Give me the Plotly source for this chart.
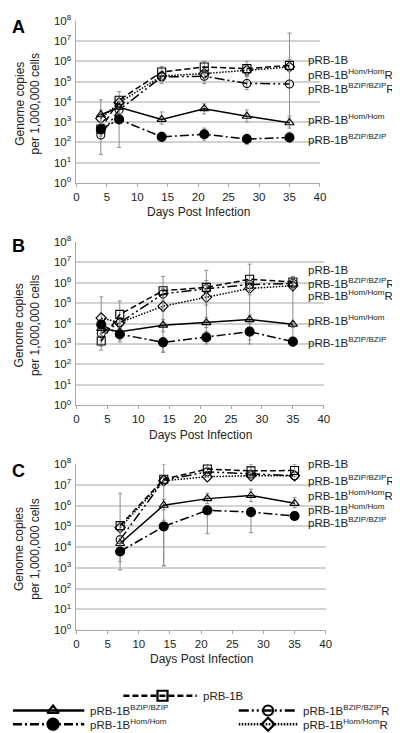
import plotly.graph_objects as go

# ---------------- data ----------------
DAYS_A = [4, 7, 14, 21, 28, 35]
DAYS_B = [4, 7, 14, 21, 28, 35]
DAYS_C = [7, 14, 21, 28, 35]

# series keys: prb (square, dashed), tri (triangle, solid), fill (filled circle, dash-dot),
#              bzipr (open circle, dash-dot-dot), homr (diamond, dotted)
A_PRB = [450, 12000, 300000, 525000, 440000, 630000]
A_HOMR = [1500, 9000, 190000, 250000, 360000, 530000]
A_BZIPR = [230, 4000, 170000, 185000, 81000, 76000]
A_TRI = [2300, 5400, 1350, 4600, 1950, 930]
A_FILL = [440, 1350, 186, 250, 145, 173]

B_PRB = [1400, 28000, 400000, 580000, 1450000, 1070000]
B_BZIPR = [3300, 11000, 280000, 500000, 800000, 900000]
B_HOMR = [18600, 11000, 70000, 190000, 520000, 700000]
B_TRI = [5800, 4000, 8300, 11000, 15500, 9300]
B_FILL = [8900, 3000, 1200, 2100, 4000, 1300]

C_PRB = [110000, 19000000, 59000000, 48000000, 50000000]
C_BZIPR = [23000, 17000000, 43000000, 34000000, 28000000]
C_HOMR = [87000, 16000000, 25000000, 28000000, 28000000]
C_TRI = [15000, 1050000, 2200000, 3100000, 1300000]
C_FILL = [6200, 100000, 600000, 490000, 320000]

# error bar ends (log10 of genome copies)
A_PRB_LO = [2.4, 3.8, 5.0, 5.4, 5.3, 5.5]
A_PRB_HI = [2.9, 4.5, 5.75, 6.0, 6.0, 6.1]
A_BZIPR_LO = [1.4, 3.3, 4.9, 4.9, 4.6, 3.2]
A_BZIPR_HI = [4.1, 4.0, 5.5, 5.5, 5.25, 7.4]
A_FILL_LO = [2.3, 1.75, 2.05, 2.1, 1.9, 2.0]
A_FILL_HI = [2.9, 3.4, 2.5, 2.7, 2.4, 2.5]
A_TRI_LO = [3.0, 3.4, 2.9, 3.4, 3.0, 2.7]
A_TRI_HI = [3.6, 4.0, 3.5, 3.9, 3.6, 3.3]

B_PRB_LO = [2.9, 3.1, 2.6, 5.3, 3.0, 5.7]
B_PRB_HI = [3.4, 5.1, 6.3, 6.1, 6.9, 6.3]
B_HOMR_LO = [2.7, 3.8, 4.6, 4.9, 5.4, 3.3]
B_HOMR_HI = [5.3, 4.2, 5.1, 5.5, 6.0, 6.2]
B_BZIPR_LO = [3.2, 3.8, 5.2, 3.2, 5.6, 5.7]
B_BZIPR_HI = [3.7, 4.3, 5.7, 6.6, 6.1, 6.2]
B_TRI_LO = [3.5, 3.3, 3.6, 3.8, 4.0, 3.8]
B_TRI_HI = [4.0, 3.8, 4.2, 4.3, 4.4, 4.1]
B_FILL_LO = [3.7, 3.2, 2.6, 3.0, 3.2, 2.9]
B_FILL_HI = [4.2, 3.7, 3.3, 3.6, 4.0, 3.3]

C_PRB_LO = [2.9, 3.1, 7.4, 7.4, 7.4]
C_PRB_HI = [6.6, 8.0, 8.2, 8.0, 8.0]
C_FILL_LO = [3.3, 3.1, 4.65, 4.7, 5.5]
C_FILL_HI = [4.2, 5.3, 6.0, 5.9, 5.7]
C_TRI_LO = [3.9, 5.8, 6.1, 6.2, 5.9]
C_TRI_HI = [4.4, 6.3, 6.6, 6.8, 6.4]

X_TICKS = [0, 5, 10, 15, 20, 25, 30, 35, 40]
Y_TICKVALS = [1, 10, 100, 1000, 10000, 100000, 1000000, 10000000, 100000000]
Y_TICKTEXT = ["10<sup>%d</sup>" % i for i in range(9)]

PANEL_LETTERS = ["A", "B", "C"]
X_TITLE = "Days Post Infection"
Y_TITLE = "Genome copies<br>per 1,000,000 cells"

LBL_PRB = "pRB-1B"
LBL_HOM = "pRB-1B<sup>Hom/Hom</sup>"
LBL_BZIP = "pRB-1B<sup>BZIP/BZIP</sup>"
LBL_HOMR = "pRB-1B<sup>Hom/Hom</sup>R"
LBL_BZIPR = "pRB-1B<sup>BZIP/BZIP</sup>R"

A_LABELS = [LBL_PRB, LBL_HOMR, LBL_BZIPR, LBL_HOM, LBL_BZIP]
B_LABELS = [LBL_PRB, LBL_BZIPR, LBL_HOMR, LBL_HOM, LBL_BZIP]
C_LABELS = [LBL_PRB, LBL_BZIPR, LBL_HOMR, LBL_HOM, LBL_BZIP]

LEGEND_ORDER = [("prb", LBL_PRB), ("tri", LBL_BZIP), ("bzipr", LBL_BZIPR),
                ("fill", LBL_HOM), ("homr", LBL_HOMR)]

# ---------------- styles / layout ----------------
W, H = 400, 733
FONT = "Liberation Sans"
TXT = "#222222"
GRID = "#d2d2d2"
ERR = "#8c8c8c"
FS = 11.5

STYLE = {
    "prb": dict(symbol="square-open", size=8, dash="6px,3px"),
    "tri": dict(symbol="triangle-up-open", size=8, dash="solid"),
    "fill": dict(symbol="circle", size=9, dash="9px,3px,2px,3px"),
    "bzipr": dict(symbol="circle-open", size=8, dash="10px,3px,2px,3px,2px,3px"),
    "homr": dict(symbol="diamond-open", size=8, dash="1.5px,1.5px"),
}


def px_x(x):
    return x / W


def px_y(y):
    return 1 - y / H


fig = go.Figure()

panels = [
    dict(days=DAYS_A, ax="", top=5, bot=170, left=67, right=316,
         series={"prb": A_PRB, "homr": A_HOMR, "bzipr": A_BZIPR, "tri": A_TRI, "fill": A_FILL},
         errs={"prb": (A_PRB_LO, A_PRB_HI), "bzipr": (A_BZIPR_LO, A_BZIPR_HI),
               "fill": (A_FILL_LO, A_FILL_HI), "tri": (A_TRI_LO, A_TRI_HI)},
         labels=A_LABELS, label_y=[45, 59, 73, 105, 125], letter_y=11),
    dict(days=DAYS_B, ax="2", top=230, bot=397, left=67, right=320,
         series={"prb": B_PRB, "homr": B_HOMR, "bzipr": B_BZIPR, "tri": B_TRI, "fill": B_FILL},
         errs={"prb": (B_PRB_LO, B_PRB_HI), "homr": (B_HOMR_LO, B_HOMR_HI),
               "bzipr": (B_BZIPR_LO, B_BZIPR_HI), "tri": (B_TRI_LO, B_TRI_HI),
               "fill": (B_FILL_LO, B_FILL_HI)},
         labels=B_LABELS, label_y=[259, 272, 284, 310, 332], letter_y=234),
    dict(days=DAYS_C, ax="3", top=457, bot=626, left=67, right=322,
         series={"prb": C_PRB, "homr": C_HOMR, "bzipr": C_BZIPR, "tri": C_TRI, "fill": C_FILL},
         errs={"prb": (C_PRB_LO, C_PRB_HI), "fill": (C_FILL_LO, C_FILL_HI),
               "tri": (C_TRI_LO, C_TRI_HI)},
         labels=C_LABELS, label_y=[457, 473, 488, 503, 516], letter_y=464),
]

annotations = []
for i, p in enumerate(panels):
    xa = "x" + p["ax"]
    ya = "y" + p["ax"]
    for key in ["homr", "bzipr", "prb", "tri", "fill"]:
        vals = p["series"][key]
        st = STYLE[key]
        err = dict(visible=False)
        if key in p["errs"]:
            lo, hi = p["errs"][key]
            err = dict(type="data", symmetric=False,
                       array=[10 ** h - v for h, v in zip(hi, vals)],
                       arrayminus=[v - 10 ** l for l, v in zip(lo, vals)],
                       color=ERR, thickness=1, width=2)
        fig.add_trace(go.Scatter(
            x=p["days"], y=vals, mode="lines+markers", xaxis=xa, yaxis=ya,
            line=dict(color="black", width=1.5, dash=st["dash"]),
            marker=dict(symbol=st["symbol"], size=st["size"], color="black",
                        line=dict(color="black", width=1.1)),
            error_y=err, showlegend=False, cliponaxis=False, hoverinfo="skip"))
    xdom = [px_x(p["left"]), px_x(p["right"])]
    ydom = [px_y(p["bot"]), px_y(p["top"])]
    fig.layout["xaxis" + p["ax"]] = dict(
        domain=xdom, range=[0, 40], tickvals=X_TICKS, anchor=ya,
        showgrid=False, zeroline=False, showline=True, linecolor="#aaaaaa", linewidth=1,
        ticks="outside", ticklen=3, tickcolor="#aaaaaa",
        tickfont=dict(family=FONT, size=FS, color=TXT))
    fig.layout["yaxis" + p["ax"]] = dict(
        domain=ydom, type="log", range=[0, 8], tickvals=Y_TICKVALS, ticktext=Y_TICKTEXT,
        anchor=xa, showgrid=True, gridcolor=GRID, gridwidth=1.5, zeroline=False,
        showline=True, linecolor="#aaaaaa", linewidth=1, ticks="", ticklabelstandoff=2,
        tickfont=dict(family=FONT, size=FS, color=TXT))
    annotations.append(dict(text="<b>%s</b>" % PANEL_LETTERS[i], xref="paper", yref="paper",
                            x=px_x(8), y=px_y(p["letter_y"]), showarrow=False,
                            font=dict(family=FONT, size=18, color="black"),
                            xanchor="center", yanchor="middle"))
    annotations.append(dict(text=Y_TITLE, xref="paper", yref="paper",
                            x=px_x(17), y=px_y((p["top"] + p["bot"]) / 2 + 2), showarrow=False,
                            textangle=-90, font=dict(family=FONT, size=12, color=TXT),
                            xanchor="center", yanchor="middle"))
    annotations.append(dict(text=X_TITLE, xref="paper", yref="paper",
                            x=px_x((p["left"] + p["right"]) / 2), y=px_y(p["bot"] + 30),
                            showarrow=False, font=dict(family=FONT, size=12, color=TXT),
                            xanchor="center", yanchor="middle"))
    for lbl, ly in zip(p["labels"], p["label_y"]):
        annotations.append(dict(text=lbl, xref="paper", yref="paper",
                                x=px_x(302), y=px_y(ly), showarrow=False,
                                font=dict(family=FONT, size=FS, color=TXT),
                                xanchor="left", yanchor="middle"))

# ---------------- custom legend (own axes in pixel units) ----------------
LEG_TOP = 678
fig.layout["xaxis4"] = dict(domain=[0, 1], range=[0, W], visible=False, fixedrange=True, anchor="y4")
fig.layout["yaxis4"] = dict(domain=[0, px_y(LEG_TOP)], range=[H, LEG_TOP], visible=False,
                            fixedrange=True, anchor="x4")
LEG_SLOTS = [(115, 190, 155, 693), (2, 75, 43, 708), (233, 293, 263, 708),
             (2, 75, 43, 722), (233, 293, 263, 722)]
for (key, lbl), (x0, x1, xm, yy) in zip(LEGEND_ORDER, LEG_SLOTS):
    st = STYLE[key]
    fig.add_trace(go.Scatter(x=[x0, x1], y=[yy, yy], mode="lines", xaxis="x4", yaxis="y4",
                             line=dict(color="black", width=2.5, dash=st["dash"]),
                             showlegend=False, hoverinfo="skip"))
    fig.add_trace(go.Scatter(x=[xm], y=[yy], mode="markers", xaxis="x4", yaxis="y4",
                             marker=dict(symbol=st["symbol"], size=st["size"] + 2, color="black",
                                         line=dict(color="black", width=2.2)),
                             showlegend=False, hoverinfo="skip"))
    annotations.append(dict(text=lbl, xref="x4", yref="y4", x=x1 + 4, y=yy, showarrow=False,
                            font=dict(family=FONT, size=FS, color=TXT),
                            xanchor="left", yanchor="middle"))

fig.update_layout(width=W, height=H, margin=dict(l=0, r=0, t=0, b=0),
                  paper_bgcolor="white", plot_bgcolor="white",
                  annotations=annotations, showlegend=False,
                  font=dict(family=FONT, color=TXT))

fig.write_html("out.html")
